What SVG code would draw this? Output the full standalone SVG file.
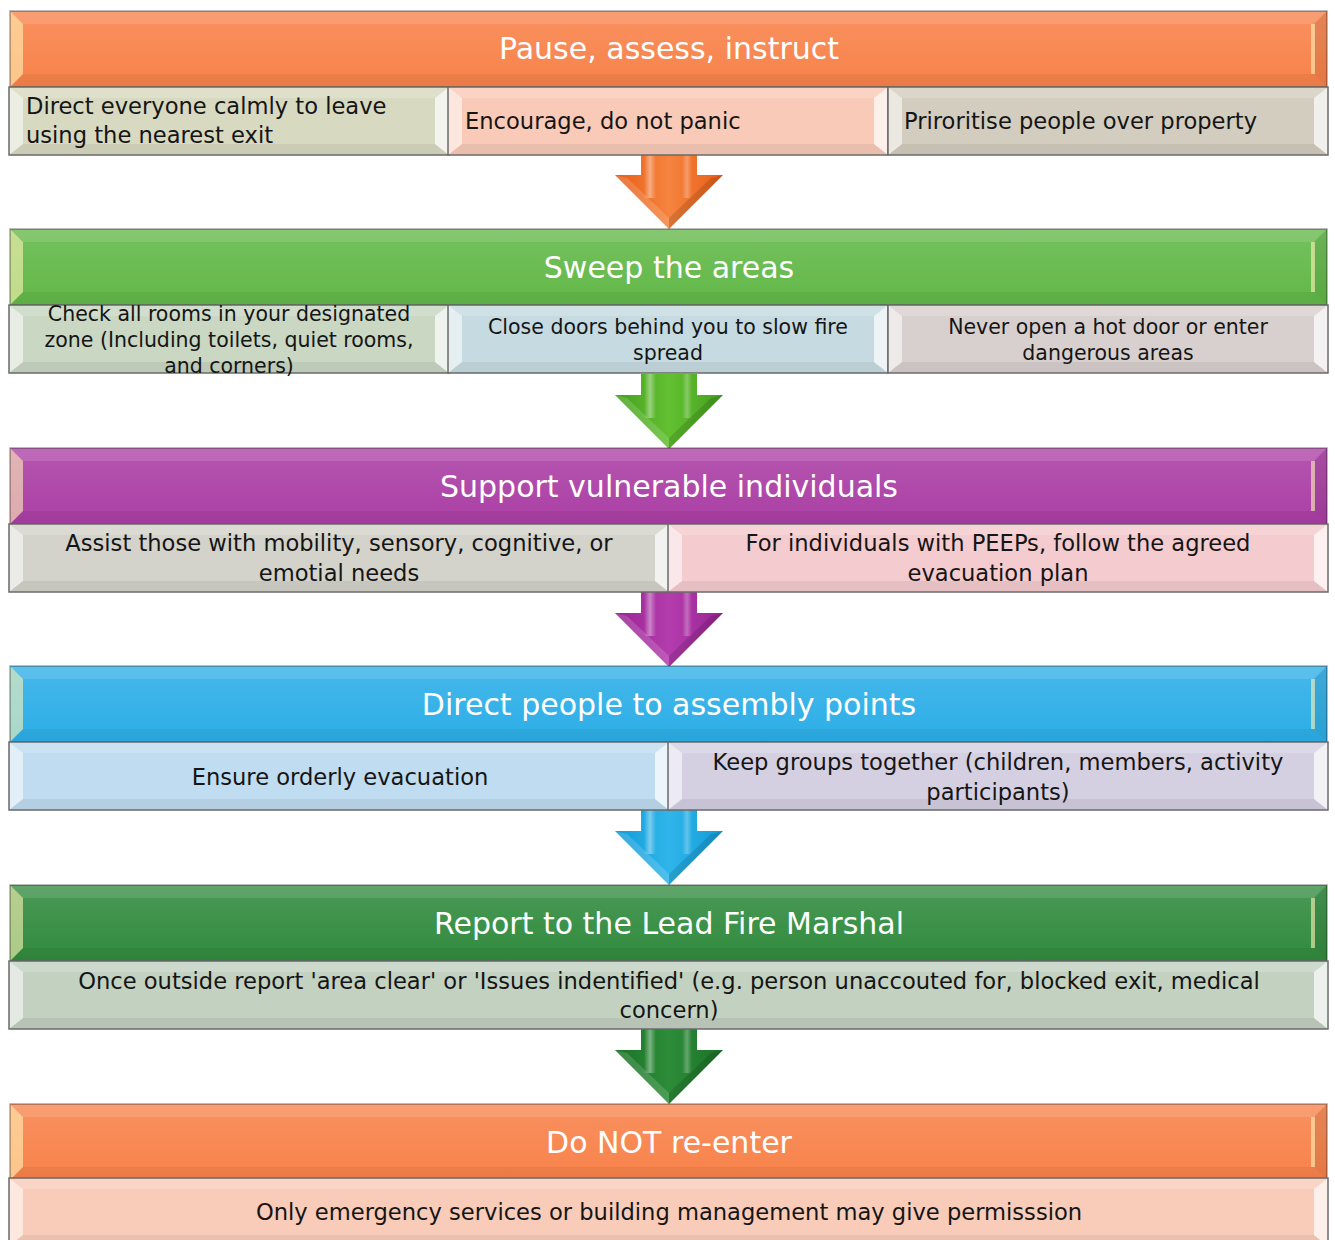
<svg xmlns="http://www.w3.org/2000/svg" xmlns:xlink="http://www.w3.org/1999/xlink" width="1335" height="1240" viewBox="0 0 1335 1240">
<style>
.ht{font-family:"DejaVu Sans","Liberation Sans",sans-serif;font-size:30px;fill:#ffffff;text-anchor:middle}
.st{font-family:"DejaVu Sans","Liberation Sans",sans-serif;font-size:22.6px;fill:#151515}
.s2{font-family:"DejaVu Sans","Liberation Sans",sans-serif;font-size:20.5px;fill:#151515;text-anchor:middle}
.mid{text-anchor:middle}
.lf{fill:#ffffff;fill-opacity:.55}
.rf{fill:#ffffff;fill-opacity:.7}
.tf{fill:#ffffff;fill-opacity:.18}
.bf{fill:#000000;fill-opacity:.06}
.ol{fill:none;stroke:#6a6a6a;stroke-width:1.5}
.hl{fill:#fff4b8;fill-opacity:.6}
.hr{fill:#000000;fill-opacity:.08}
.htp{fill:#ffffff;fill-opacity:.12}
.hbt{fill:#000000;fill-opacity:.05}
.hol{fill:none;stroke:#000000;stroke-opacity:.35;stroke-width:1.5}
</style>
<defs>
<linearGradient id="hsh" x1="0" y1="0" x2="0" y2="1">
<stop offset="0" stop-color="#ffffff" stop-opacity=".12"/>
<stop offset="1" stop-color="#ffffff" stop-opacity="0"/>
</linearGradient>
<linearGradient id="stripe" x1="0" y1="0" x2="1" y2="0">
<stop offset="0" stop-color="#ffffff" stop-opacity="0"/>
<stop offset=".5" stop-color="#ffffff" stop-opacity=".4"/>
<stop offset="1" stop-color="#ffffff" stop-opacity="0"/>
</linearGradient>
<g id="hbev">
<rect x="0" y="0" width="1317" height="76" fill="url(#hsh)"/>
<polygon class="htp" points="0,0 1317,0 1304,13 13,13"/>
<polygon class="hbt" points="0,76 1317,76 1304,63 13,63"/>
<polygon class="hl" points="0,0 13,13 13,63 0,76"/>
<polygon class="hr" points="1317,0 1304,13 1304,63 1317,76"/>
<line x1="1303" y1="13" x2="1303" y2="63" stroke="#fff4b8" stroke-opacity=".6" stroke-width="4"/>
<rect class="hol" x="0" y="0" width="1317" height="76"/>
</g>
<g id="b440">
<polygon class="tf" points="0,0 440,0 426,11 14,11"/>
<polygon class="bf" points="0,68 440,68 426,57 14,57"/>
<polygon class="lf" points="0,0 14,11 14,57 0,68"/>
<polygon class="rf" points="440,0 426,11 426,57 440,68"/>
<rect class="ol" x="0" y="0" width="440" height="68"/>
</g>
<g id="b660">
<polygon class="tf" points="0,0 660,0 646,11 14,11"/>
<polygon class="bf" points="0,68 660,68 646,57 14,57"/>
<polygon class="lf" points="0,0 14,11 14,57 0,68"/>
<polygon class="rf" points="660,0 646,11 646,57 660,68"/>
<rect class="ol" x="0" y="0" width="660" height="68"/>
</g>
<g id="b1319">
<polygon class="tf" points="0,0 1319,0 1305,11 14,11"/>
<polygon class="bf" points="0,68 1319,68 1305,57 14,57"/>
<polygon class="lf" points="0,0 14,11 14,57 0,68"/>
<polygon class="rf" points="1319,0 1305,11 1305,57 1319,68"/>
<rect class="ol" x="0" y="0" width="1319" height="68"/>
</g>
<path id="arw" d="M26,0 H82 V21 H108 L54,75 L0,21 H26 Z"/>
<g id="arwhl">
<rect x="29" y="0" width="12" height="44" fill="url(#stripe)"/>
<rect x="67" y="0" width="10" height="44" fill="url(#stripe)" opacity=".7"/>
<polygon points="0,21 12,24 54,64 54,75" fill="#ffffff" fill-opacity=".15"/>
<polygon points="108,21 96,24 54,64 54,75" fill="#000000" fill-opacity=".12"/>
</g>
<linearGradient id="aOr" x1="0" y1="0" x2="1" y2="0">
<stop offset="0" stop-color="#e85e17"/><stop offset=".5" stop-color="#f5843e"/><stop offset="1" stop-color="#e85e17"/>
</linearGradient>
<linearGradient id="aGr" x1="0" y1="0" x2="1" y2="0">
<stop offset="0" stop-color="#45a01e"/><stop offset=".5" stop-color="#62c031"/><stop offset="1" stop-color="#45a01e"/>
</linearGradient>
<linearGradient id="aPu" x1="0" y1="0" x2="1" y2="0">
<stop offset="0" stop-color="#982493"/><stop offset=".5" stop-color="#b43cae"/><stop offset="1" stop-color="#982493"/>
</linearGradient>
<linearGradient id="aBl" x1="0" y1="0" x2="1" y2="0">
<stop offset="0" stop-color="#129cd8"/><stop offset=".5" stop-color="#2fb5ea"/><stop offset="1" stop-color="#129cd8"/>
</linearGradient>
<linearGradient id="aDg" x1="0" y1="0" x2="1" y2="0">
<stop offset="0" stop-color="#1b7228"/><stop offset=".5" stop-color="#2c8c38"/><stop offset="1" stop-color="#1b7228"/>
</linearGradient>
</defs>
<rect x="0" y="0" width="1335" height="1240" fill="#ffffff"/>

<g id="connectors">
<g transform="translate(615,154)"><use href="#arw" fill="url(#aOr)"/><use href="#arwhl"/></g>
<g transform="translate(615,374)"><use href="#arw" fill="url(#aGr)"/><use href="#arwhl"/></g>
<g transform="translate(615,592)"><use href="#arw" fill="url(#aPu)"/><use href="#arwhl"/></g>
<g transform="translate(615,810)"><use href="#arw" fill="url(#aBl)"/><use href="#arwhl"/></g>
<g transform="translate(615,1029)"><use href="#arw" fill="url(#aDg)"/><use href="#arwhl"/></g>
</g>

<g id="h1"><rect x="10" y="11" width="1317" height="76" fill="#f8824a"/><use href="#hbev" transform="translate(10,11)"/><text class="ht" x="669" y="59">Pause, assess, instruct</text></g>
<g id="r1a"><rect x="9" y="87" width="440" height="68" fill="#d8d9c1"/><use href="#b440" transform="translate(9,87)"/><text class="st" x="26" y="114">Direct everyone calmly to leave</text><text class="st" x="26" y="143">using the nearest exit</text></g>
<g id="r1b"><rect x="448" y="87" width="440" height="68" fill="#f9cab8"/><use href="#b440" transform="translate(448,87)"/><text class="st" x="465" y="129">Encourage, do not panic</text></g>
<g id="r1c"><rect x="888" y="87" width="440" height="68" fill="#d2cdbe"/><use href="#b440" transform="translate(888,87)"/><text class="st" x="904" y="129">Priroritise people over property</text></g>

<g id="h2"><rect x="10" y="229" width="1317" height="76" fill="#62b848"/><use href="#hbev" transform="translate(10,229)"/><text class="ht" x="669" y="278">Sweep the areas</text></g>
<g id="r2a"><rect x="9" y="305" width="440" height="68" fill="#c9d7c3"/><use href="#b440" transform="translate(9,305)"/><text class="s2" x="229" y="321">Check all rooms in your designated</text><text class="s2" x="229" y="347">zone (Including toilets, quiet rooms,</text><text class="s2" x="229" y="373">and corners)</text></g>
<g id="r2b"><rect x="448" y="305" width="440" height="68" fill="#c6dbe1"/><use href="#b440" transform="translate(448,305)"/><text class="s2" x="668" y="334">Close doors behind you to slow fire</text><text class="s2" x="668" y="360">spread</text></g>
<g id="r2c"><rect x="888" y="305" width="440" height="68" fill="#d8d0cf"/><use href="#b440" transform="translate(888,305)"/><text class="s2" x="1108" y="334">Never open a hot door or enter</text><text class="s2" x="1108" y="360">dangerous areas</text></g>

<g id="h3"><rect x="10" y="448" width="1317" height="76" fill="#ab3fa5"/><use href="#hbev" transform="translate(10,448)"/><text class="ht" x="669" y="497">Support vulnerable individuals</text></g>
<g id="r3a"><rect x="9" y="524" width="660" height="68" fill="#d3d3cb"/><use href="#b660" transform="translate(9,524)"/><text class="st mid" x="339" y="551">Assist those with mobility, sensory, cognitive, or</text><text class="st mid" x="339" y="581">emotial needs</text></g>
<g id="r3b"><rect x="668" y="524" width="660" height="68" fill="#f4cbce"/><use href="#b660" transform="translate(668,524)"/><text class="st mid" x="998" y="551">For individuals with PEEPs, follow the agreed</text><text class="st mid" x="998" y="581">evacuation plan</text></g>

<g id="h4"><rect x="10" y="666" width="1317" height="76" fill="#2caee7"/><use href="#hbev" transform="translate(10,666)"/><text class="ht" x="669" y="715">Direct people to assembly points</text></g>
<g id="r4a"><rect x="9" y="742" width="660" height="68" fill="#bfdcf0"/><use href="#b660" transform="translate(9,742)"/><text class="st mid" x="340" y="785">Ensure orderly evacuation</text></g>
<g id="r4b"><rect x="668" y="742" width="660" height="68" fill="#d4d0e2"/><use href="#b660" transform="translate(668,742)"/><text class="st mid" x="998" y="770">Keep groups together (children, members, activity</text><text class="st mid" x="998" y="800">participants)</text></g>

<g id="h5"><rect x="10" y="885" width="1317" height="76" fill="#318b3e"/><use href="#hbev" transform="translate(10,885)"/><text class="ht" x="669" y="934">Report to the Lead Fire Marshal</text></g>
<g id="r5"><rect x="9" y="961" width="1319" height="68" fill="#c3d1c1"/><use href="#b1319" transform="translate(9,961)"/><text class="st mid" x="669" y="989">Once outside report 'area clear' or 'Issues indentified' (e.g. person unaccouted for, blocked exit, medical</text><text class="st mid" x="669" y="1018">concern)</text></g>

<g id="h6"><rect x="10" y="1104" width="1317" height="76" fill="#f8824a"/><use href="#hbev" transform="translate(10,1104)"/><text class="ht" x="669" y="1153">Do NOT re-enter</text></g>
<g id="r6"><rect x="9" y="1178" width="1319" height="68" fill="#f9ccb9"/><use href="#b1319" transform="translate(9,1178)"/><text class="st mid" x="669" y="1220">Only emergency services or building management may give permisssion</text></g>
</svg>
